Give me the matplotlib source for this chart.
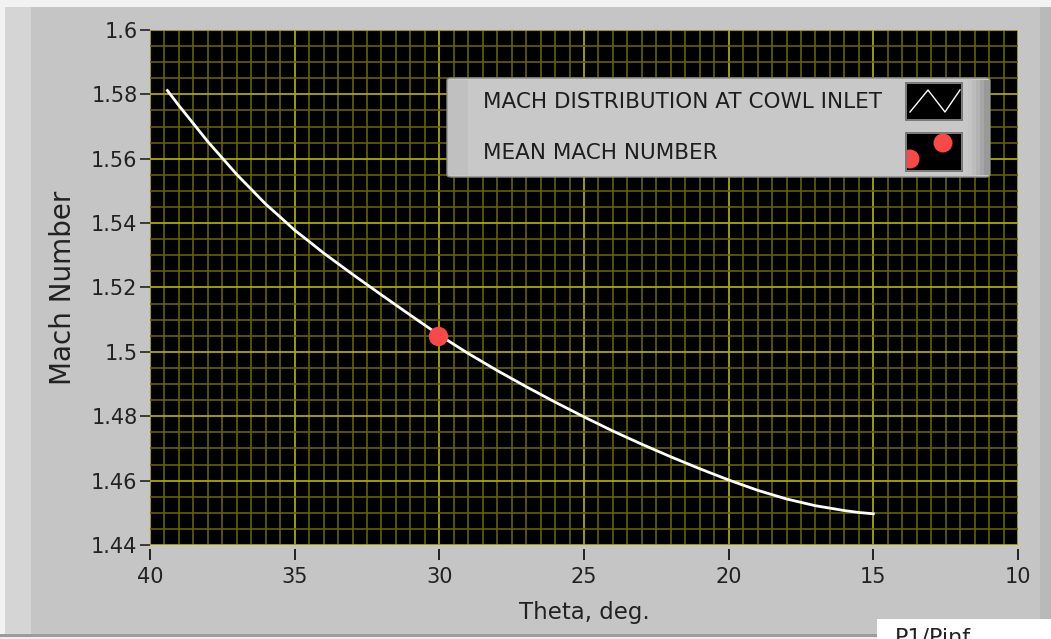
import matplotlib
matplotlib.use("Agg")
import matplotlib.pyplot as plt
from matplotlib.patches import Rectangle, FancyBboxPatch, Ellipse
from matplotlib.ticker import MultipleLocator

# Mach number along the cowl inlet vs. theta (deg)
theta = [39.4, 39.0, 38.5, 38.0, 37.5, 37.0, 36.5, 36.0, 35.5, 35.0, 34.5, 34.0,
         33.0, 32.0, 31.0, 30.0, 29.0, 28.0, 27.0, 26.0, 25.0, 24.0, 23.0, 22.0,
         21.0, 20.0, 19.0, 18.0, 17.0, 16.0, 15.5, 15.0]
mach = [1.5812, 1.5765, 1.5709, 1.5653, 1.5602, 1.5551, 1.5505, 1.5459, 1.5419, 1.5378,
        1.5343, 1.5307, 1.5241, 1.5177, 1.5114, 1.5052, 1.4995, 1.4942, 1.4892, 1.4844,
        1.4798, 1.4754, 1.4713, 1.4674, 1.4637, 1.4602, 1.4570, 1.4543, 1.4522, 1.4507,
        1.4501, 1.4497]

# mean mach number
mean_theta = [30.05]
mean_mach = [1.5050]

x_ticks = [40, 35, 30, 25, 20, 15, 10]
y_ticks = [1.44, 1.46, 1.48, 1.5, 1.52, 1.54, 1.56, 1.58, 1.6]
y_labels = ["1.44", "1.46", "1.48", "1.5", "1.52", "1.54", "1.56", "1.58", "1.6"]

W, H = 1051, 639
fig = plt.figure(figsize=(W / 100, H / 100), dpi=100, facecolor="#c5c5c5")


def px(x0, y0, w, h):
    # pixel box (top-left origin) -> figure fraction
    return x0 / W, 1 - (y0 + h) / H, w / W, h / H


def panel(x0, y0, w, h, color, z=0):
    l, b, ww, hh = px(x0, y0, w, h)
    fig.add_artist(Rectangle((l, b), ww, hh, transform=fig.transFigure,
                             facecolor=color, edgecolor="none", zorder=z))


# panel frame
panel(0, 0, W, 7, "#f2f2f2")
panel(0, 0, 5, H, "#f2f2f2")
panel(5, 7, 26, 628, "#d5d5d5")
panel(1040, 7, 11, 628, "#b9b9b9")
panel(0, 634, W, 3, "#9c9c9c")
panel(0, 637, W, 2, "#ededed")
panel(877, 619, 174, 20, "white", z=2)
fig.text(895 / W, 1 - 643 / H, "P1/Pinf", fontsize=16, color="#222222",
         ha="left", va="baseline", zorder=3)

ax = fig.add_axes([150 / W, 1 - 545 / H, 868 / W, 515 / H])
ax.set_facecolor("black")
ax.plot(theta, mach, color="white", lw=2.0, zorder=3)
ax.plot(mean_theta, mean_mach, "o", color="#f84848", ms=14, mec="none", zorder=4)

ax.set_xlim(40, 10)
ax.set_ylim(1.44, 1.6)
ax.set_xticks(x_ticks)
ax.set_xticklabels([str(t) for t in x_ticks])
ax.set_yticks(y_ticks)
ax.set_yticklabels(y_labels)
ax.xaxis.set_minor_locator(MultipleLocator(0.5))
ax.yaxis.set_minor_locator(MultipleLocator(0.005))
ax.grid(which="minor", color="#626200", lw=1.2, zorder=1)
ax.grid(which="major", color="#a8a800", lw=1.3, zorder=2)
ax.set_axisbelow(True)
ax.tick_params(which="minor", length=0)
ax.tick_params(axis="y", which="major", length=7, width=1.2, pad=2,
               labelsize=15, color="#222222", labelcolor="#222222")
ax.tick_params(axis="x", which="major", length=0, pad=16,
               labelsize=15, labelcolor="#222222")
for s in ax.spines.values():
    s.set_visible(False)

# x tick marks sit a little below the plot area
for t in x_ticks:
    ax.plot([t, t], [1.4385, 1.4358], color="#222222", lw=1.4, clip_on=False)

ax.set_xlabel("Theta, deg.", fontsize=16.5, color="#222222", labelpad=10)
ax.set_ylabel("Mach Number", fontsize=20, color="#222222", labelpad=10)

# legend plate
l, b, w, h = px(447, 78, 543, 99)
fig.add_artist(FancyBboxPatch((l, b), w, h, boxstyle="round,pad=0,rounding_size=0.004",
                              transform=fig.transFigure, facecolor="#c8c8c8",
                              edgecolor="#8a8a8a", lw=1, zorder=5))
panel(448, 80, 20, 95, "#c0c0c0", z=5)
for i, col in enumerate(["#c4c4c4", "#bcbcbc", "#b2b2b2", "#a6a6a6", "#999999"]):
    panel(968 + i * 4, 80, 5, 95, col, z=5)
fig.text(483 / W, 1 - 102 / H, "MACH DISTRIBUTION AT COWL INLET", fontsize=15.5,
         color="#1e1e1e", va="center", ha="left", zorder=6)
fig.text(483 / W, 1 - 153 / H, "MEAN MACH NUMBER", fontsize=15.5,
         color="#1e1e1e", va="center", ha="left", zorder=6)

panel(905, 82, 58, 39, "#7a7a7a", z=6)
panel(907, 84, 54, 35, "black", z=7)
zx = [910, 928, 945, 960]
zy = [112, 90, 112, 90]
fig.add_artist(plt.Line2D([v / W for v in zx], [1 - v / H for v in zy],
                          transform=fig.transFigure, color="white", lw=1.0, zorder=8))

panel(905, 132, 58, 40, "#7a7a7a", z=6)
panel(907, 134, 54, 36, "black", z=7)
clip = Rectangle((907 / W, 1 - 170 / H), 54 / W, 36 / H, transform=fig.transFigure)
for cx, cy in [(943, 143), (910, 159)]:
    e = Ellipse((cx / W, 1 - cy / H), 19 / W, 19 / H, transform=fig.transFigure,
                facecolor="#f84848", edgecolor="none", zorder=8)
    e.set_clip_path(clip)
    fig.add_artist(e)

fig.savefig("out.png", dpi=100, facecolor=fig.get_facecolor())
